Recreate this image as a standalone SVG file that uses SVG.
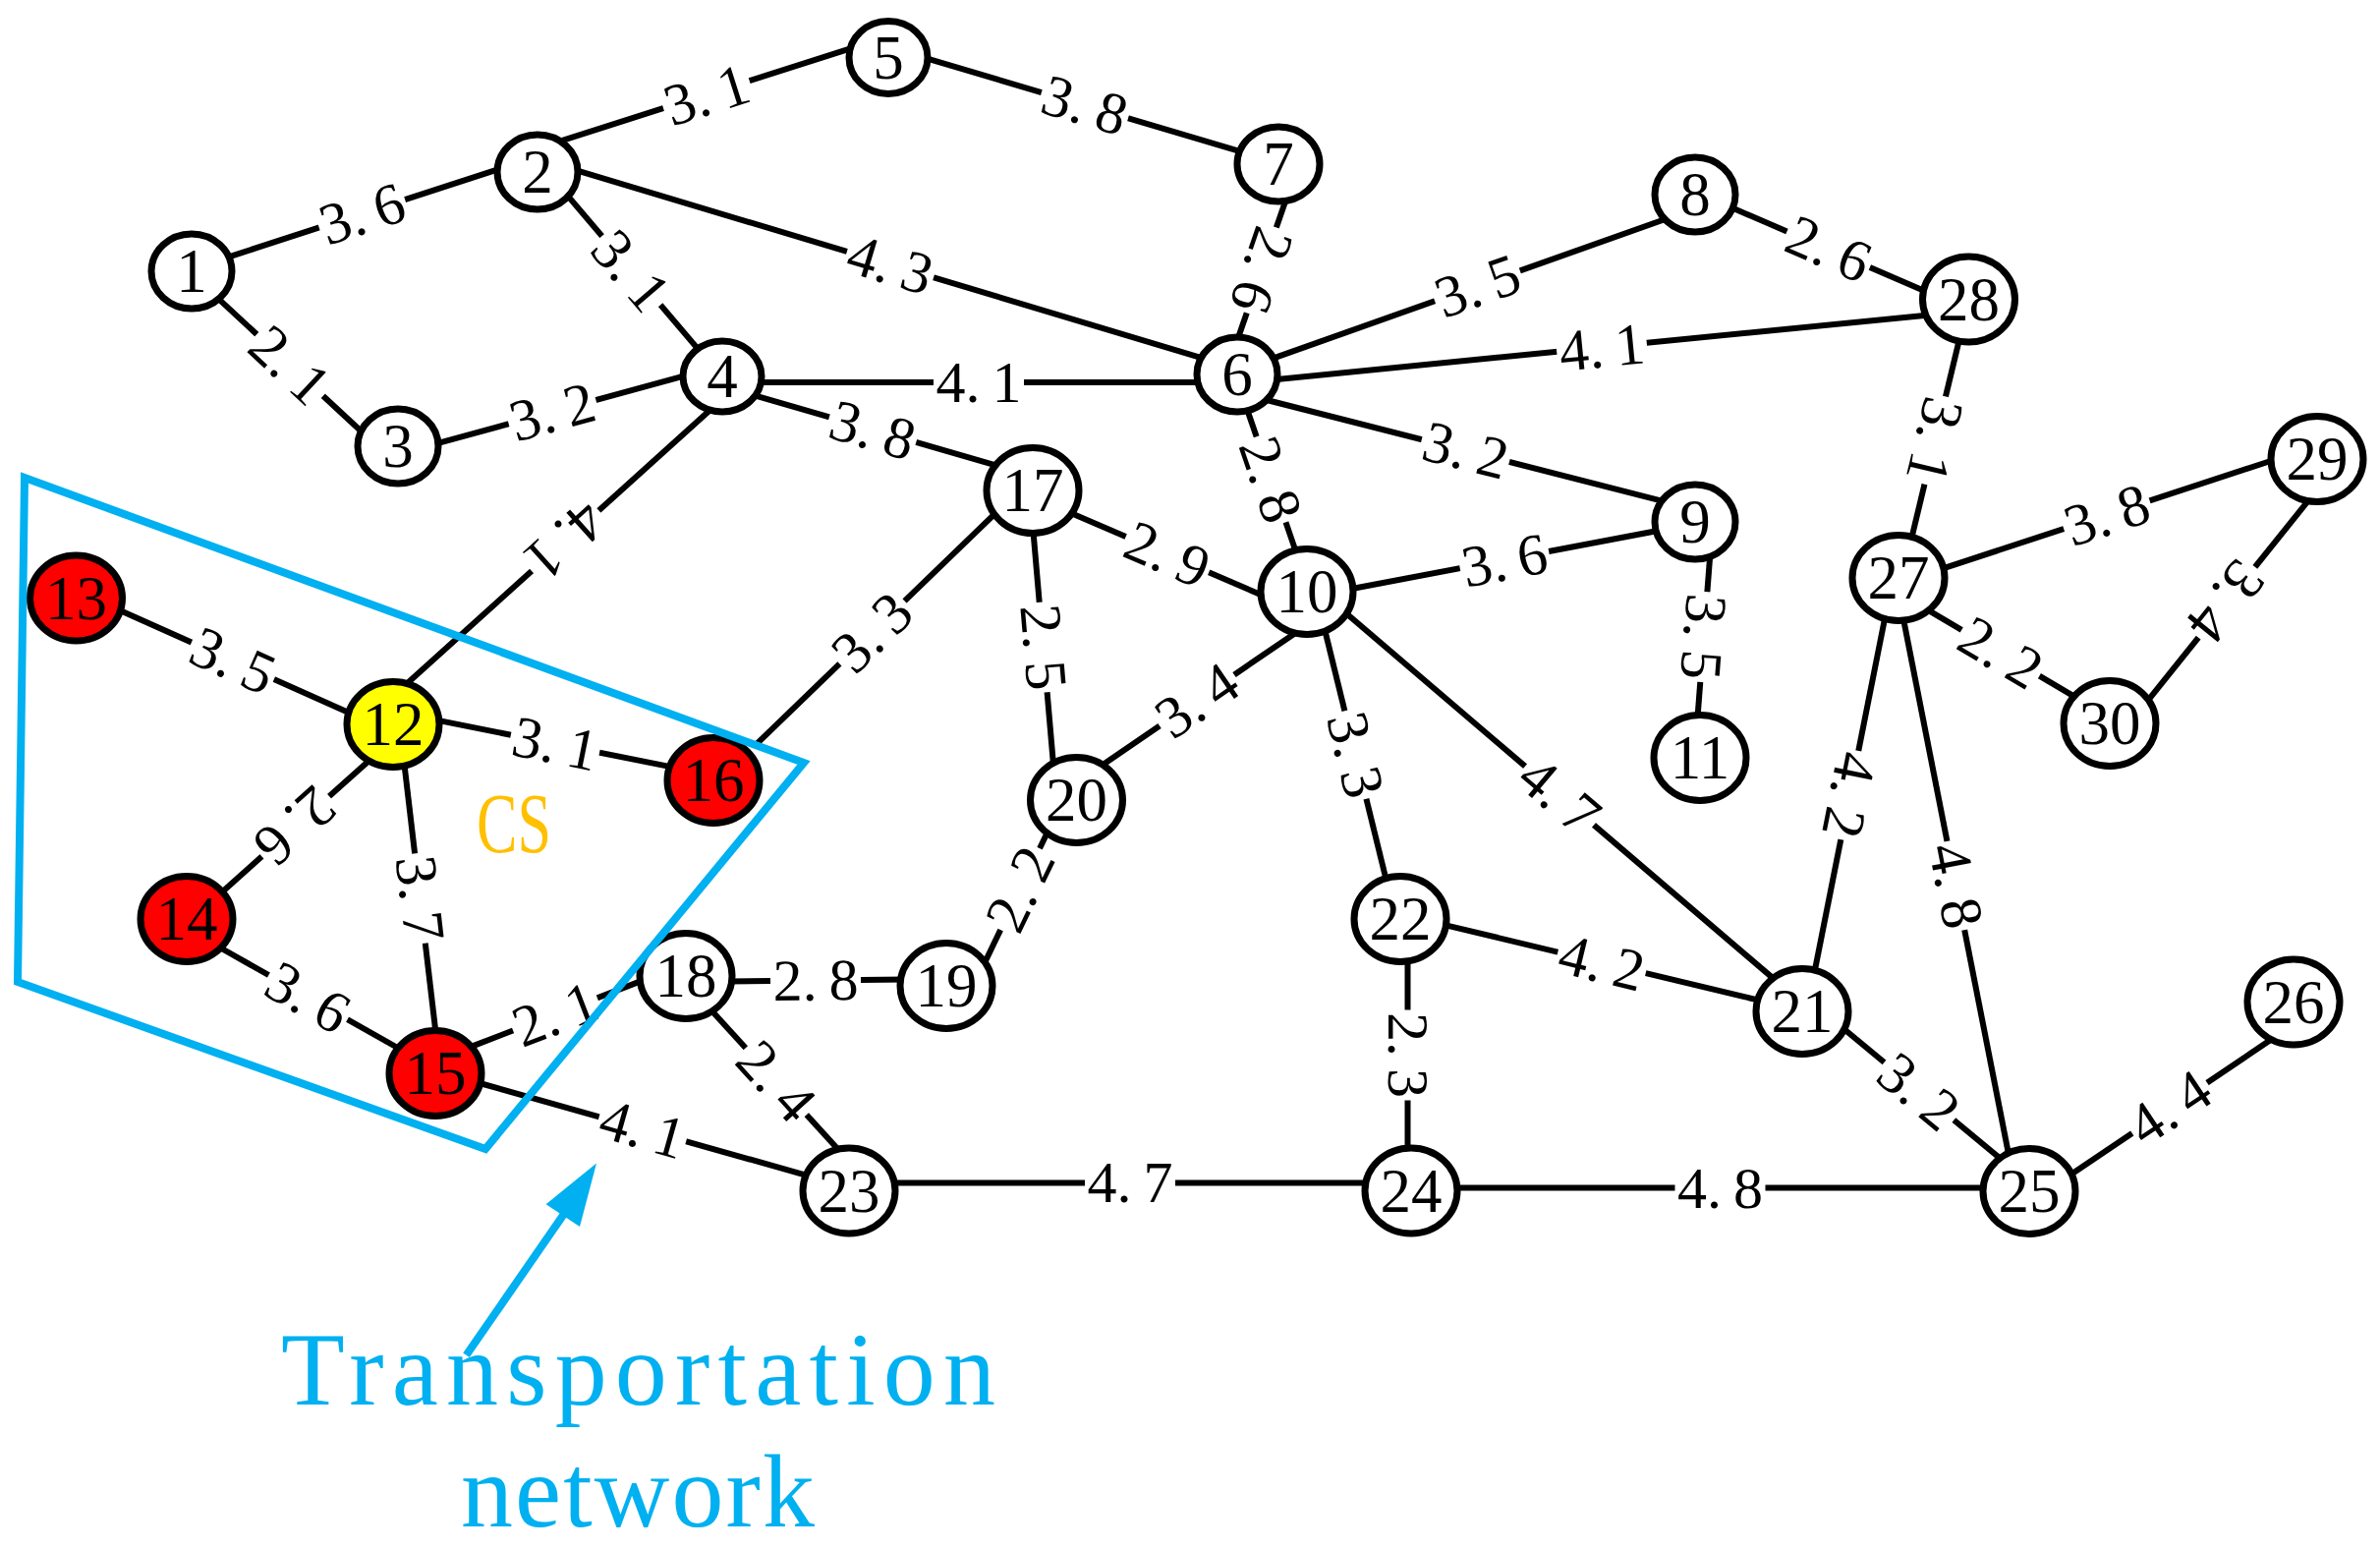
<svg xmlns="http://www.w3.org/2000/svg" width="2422" height="1577" viewBox="0 0 2422 1577">
<style>
.e line{stroke:#000;stroke-width:6;fill:none}
.lb rect{fill:#fff}
.lb text{font-family:"Liberation Serif","Times New Roman",serif;font-size:60px;text-anchor:middle;fill:#000}
.n ellipse{stroke:#000;stroke-width:7;fill:#fff}
.n text{font-family:"Liberation Serif","Times New Roman",serif;font-size:63px;text-anchor:middle;fill:#000}
.red ellipse{fill:#ff0000}
.yel ellipse{fill:#ffff00}
.blue{stroke:#00B0F0;stroke-width:8;fill:none;stroke-linejoin:miter}
.bt{font-family:"Liberation Serif","Times New Roman",serif;font-size:106px;fill:#00B0F0}
</style>
<rect width="2422" height="1577" fill="#fff"/>
<g id="connectors" class="e">
<line x1="228.4" y1="262.8" x2="509" y2="171.6"/>
<line x1="218.7" y1="300.6" x2="370.5" y2="441.5"/>
<line x1="567.7" y1="144.4" x2="868.6" y2="48.3"/>
<line x1="574.1" y1="194.9" x2="711.2" y2="356.1"/>
<line x1="584.3" y1="172.7" x2="1223.5" y2="364.3"/>
<line x1="443.1" y1="451.7" x2="699.4" y2="381.6"/>
<line x1="770" y1="389" x2="1222" y2="389"/>
<line x1="760.3" y1="400.1" x2="1015" y2="473.8"/>
<line x1="724.5" y1="415.6" x2="409.1" y2="700"/>
<line x1="940.3" y1="58.6" x2="1263.1" y2="154.3"/>
<line x1="1309.4" y1="201" x2="1258.7" y2="347.4"/>
<line x1="1296.1" y1="364.4" x2="1711.5" y2="217"/>
<line x1="1296.8" y1="386.2" x2="1963.5" y2="320.4"/>
<line x1="1289.1" y1="407" x2="1696" y2="510.8"/>
<line x1="1268.6" y1="415" x2="1319.2" y2="562.6"/>
<line x1="1758.9" y1="209.8" x2="1961.3" y2="297.2"/>
<line x1="1994.3" y1="343.8" x2="1944.1" y2="552.6"/>
<line x1="1975.7" y1="578.9" x2="2315.3" y2="467.5"/>
<line x1="2350.4" y1="507.7" x2="2185.7" y2="712.8"/>
<line x1="1957.7" y1="618.1" x2="2114.3" y2="710.7"/>
<line x1="1918.6" y1="626.5" x2="1846" y2="991.6"/>
<line x1="1936.5" y1="627.2" x2="2044.3" y2="1175.6"/>
<line x1="1373.1" y1="599.5" x2="1688.3" y2="539.8"/>
<line x1="1740.3" y1="564.3" x2="1727.3" y2="732.5"/>
<line x1="1347.6" y1="638.5" x2="1411.5" y2="898.6"/>
<line x1="1367.9" y1="622.2" x2="1807.1" y2="997.6"/>
<line x1="1468.2" y1="940.6" x2="1793" y2="1018.4"/>
<line x1="1432.5" y1="974" x2="1432.5" y2="1173"/>
<line x1="1086.9" y1="520.8" x2="1286.4" y2="606.5"/>
<line x1="1119.4" y1="780" x2="1321.3" y2="641.9"/>
<line x1="1051.3" y1="538.5" x2="1072" y2="778.3"/>
<line x1="768.2" y1="758.6" x2="1015.1" y2="520.2"/>
<line x1="999.8" y1="984.2" x2="1068.1" y2="842.3"/>
<line x1="740.3" y1="998.4" x2="922.4" y2="996.5"/>
<line x1="443" y1="732.4" x2="684.8" y2="780.6"/>
<line x1="115.3" y1="617.9" x2="359.3" y2="727.1"/>
<line x1="379.7" y1="770.2" x2="223.3" y2="909.9"/>
<line x1="411.1" y1="774.5" x2="443.8" y2="1053.6"/>
<line x1="218.4" y1="961" x2="406.4" y2="1067"/>
<line x1="476.9" y1="1065.9" x2="656.9" y2="996.4"/>
<line x1="484.6" y1="1101" x2="824.4" y2="1196.8"/>
<line x1="725.1" y1="1029.3" x2="855.3" y2="1171.9"/>
<line x1="906" y1="1203.4" x2="1394" y2="1203.4"/>
<line x1="1477" y1="1208.6" x2="2022" y2="1208.6"/>
<line x1="1875.1" y1="1045.8" x2="2038.2" y2="1180.9"/>
<line x1="2104.8" y1="1196.7" x2="2315.1" y2="1055.1"/>
<g class="lb" transform="translate(368.5,217.5) rotate(-18)"><rect x="-46" y="-23" width="92" height="46"/><text y="20">3.<tspan dx="12">6</tspan></text></g>
<g class="lb" transform="translate(295,371.5) rotate(42.9)"><rect x="-46" y="-23" width="92" height="46"/><text y="20">2.<tspan dx="12">1</tspan></text></g>
<g class="lb" transform="translate(719,96.5) rotate(-17.7)"><rect x="-46" y="-23" width="92" height="46"/><text y="20">3.<tspan dx="12">1</tspan></text></g>
<g class="lb" transform="translate(642,275.5) rotate(49.6)"><rect x="-46" y="-23" width="92" height="46"/><text y="20">3.<tspan dx="12">1</tspan></text></g>
<g class="lb" transform="translate(906,269) rotate(16.7)"><rect x="-46" y="-23" width="92" height="46"/><text y="20">4.<tspan dx="12">3</tspan></text></g>
<g class="lb" transform="translate(562,419) rotate(-15.3)"><rect x="-46" y="-23" width="92" height="46"/><text y="20">3.<tspan dx="12">2</tspan></text></g>
<g class="lb" transform="translate(996,389) rotate(0)"><rect x="-46" y="-23" width="92" height="46"/><text y="20">4.<tspan dx="12">1</tspan></text></g>
<g class="lb" transform="translate(888,437.5) rotate(16.2)"><rect x="-46" y="-23" width="92" height="46"/><text y="20">3.<tspan dx="12">8</tspan></text></g>
<g class="lb" transform="translate(575,550) rotate(138)"><rect x="-46" y="-23" width="92" height="46"/><text y="20">4.<tspan dx="12">1</tspan></text></g>
<g class="lb" transform="translate(1104,107) rotate(16.5)"><rect x="-46" y="-23" width="92" height="46"/><text y="20">3.<tspan dx="12">8</tspan></text></g>
<g class="lb" transform="translate(1284,275) rotate(109.1)"><rect x="-46" y="-23" width="92" height="46"/><text y="20">2.<tspan dx="12">6</tspan></text></g>
<g class="lb" transform="translate(1503.5,291) rotate(-19.5)"><rect x="-46" y="-23" width="92" height="46"/><text y="20">3.<tspan dx="12">5</tspan></text></g>
<g class="lb" transform="translate(1630,353.5) rotate(-5.6)"><rect x="-46" y="-23" width="92" height="46"/><text y="20">4.<tspan dx="12">1</tspan></text></g>
<g class="lb" transform="translate(1491.5,458) rotate(14.3)"><rect x="-46" y="-23" width="92" height="46"/><text y="20">3.<tspan dx="12">2</tspan></text></g>
<g class="lb" transform="translate(1293,488) rotate(71.1)"><rect x="-46" y="-23" width="92" height="46"/><text y="20">2.<tspan dx="12">8</tspan></text></g>
<g class="lb" transform="translate(1861,253) rotate(23.3)"><rect x="-46" y="-23" width="92" height="46"/><text y="20">2.<tspan dx="12">6</tspan></text></g>
<g class="lb" transform="translate(1969,448) rotate(103.5)"><rect x="-46" y="-23" width="92" height="46"/><text y="20">3.<tspan dx="12">1</tspan></text></g>
<g class="lb" transform="translate(2144,524) rotate(-18.2)"><rect x="-46" y="-23" width="92" height="46"/><text y="20">3.<tspan dx="12">8</tspan></text></g>
<g class="lb" transform="translate(2265,612) rotate(128.8)"><rect x="-46" y="-23" width="92" height="46"/><text y="20">3.<tspan dx="12">4</tspan></text></g>
<g class="lb" transform="translate(2036,664) rotate(30.6)"><rect x="-46" y="-23" width="92" height="46"/><text y="20">2.<tspan dx="12">2</tspan></text></g>
<g class="lb" transform="translate(1882,809) rotate(101.2)"><rect x="-46" y="-23" width="92" height="46"/><text y="20">4.<tspan dx="12">2</tspan></text></g>
<g class="lb" transform="translate(1990.5,901) rotate(78.9)"><rect x="-46" y="-23" width="92" height="46"/><text y="20">4.<tspan dx="12">8</tspan></text></g>
<g class="lb" transform="translate(1531,570) rotate(-10.7)"><rect x="-46" y="-23" width="92" height="46"/><text y="20">3.<tspan dx="12">6</tspan></text></g>
<g class="lb" transform="translate(1733.5,648) rotate(94.4)"><rect x="-46" y="-23" width="92" height="46"/><text y="20">3.<tspan dx="12">5</tspan></text></g>
<g class="lb" transform="translate(1379.5,768) rotate(76.2)"><rect x="-46" y="-23" width="92" height="46"/><text y="20">3.<tspan dx="12">3</tspan></text></g>
<g class="lb" transform="translate(1587,809.5) rotate(40.5)"><rect x="-46" y="-23" width="92" height="46"/><text y="20">4.<tspan dx="12">7</tspan></text></g>
<g class="lb" transform="translate(1630,979.5) rotate(13.5)"><rect x="-46" y="-23" width="92" height="46"/><text y="20">4.<tspan dx="12">2</tspan></text></g>
<g class="lb" transform="translate(1432.5,1073.5) rotate(90)"><rect x="-46" y="-23" width="92" height="46"/><text y="20">2.<tspan dx="12">3</tspan></text></g>
<g class="lb" transform="translate(1188,564) rotate(23.2)"><rect x="-46" y="-23" width="92" height="46"/><text y="20">2.<tspan dx="12">9</tspan></text></g>
<g class="lb" transform="translate(1218,712.5) rotate(-34.4)"><rect x="-46" y="-23" width="92" height="46"/><text y="20">3.<tspan dx="12">4</tspan></text></g>
<g class="lb" transform="translate(1062,658.5) rotate(85.1)"><rect x="-46" y="-23" width="92" height="46"/><text y="20">2.<tspan dx="12">5</tspan></text></g>
<g class="lb" transform="translate(887.5,643.4) rotate(-44)"><rect x="-46" y="-23" width="92" height="46"/><text y="20">3.<tspan dx="12">3</tspan></text></g>
<g class="lb" transform="translate(1038,904.6) rotate(-64.3)"><rect x="-46" y="-23" width="92" height="46"/><text y="20">2.<tspan dx="12">2</tspan></text></g>
<g class="lb" transform="translate(830,997.5) rotate(-0.6)"><rect x="-46" y="-23" width="92" height="46"/><text y="20">2.<tspan dx="12">8</tspan></text></g>
<g class="lb" transform="translate(565,756.5) rotate(11.25)"><rect x="-46" y="-23" width="92" height="46"/><text y="20">3.<tspan dx="12">1</tspan></text></g>
<g class="lb" transform="translate(237,672) rotate(24.1)"><rect x="-46" y="-23" width="92" height="46"/><text y="20">3.<tspan dx="12">5</tspan></text></g>
<g class="lb" transform="translate(300.5,840.5) rotate(138.2)"><rect x="-46" y="-23" width="92" height="46"/><text y="20">2.<tspan dx="12">6</tspan></text></g>
<g class="lb" transform="translate(427.5,914) rotate(83.3)"><rect x="-46" y="-23" width="92" height="46"/><text y="20">3.<tspan dx="12">7</tspan></text></g>
<g class="lb" transform="translate(313.4,1014.8) rotate(29.4)"><rect x="-46" y="-23" width="92" height="46"/><text y="20">3.<tspan dx="12">6</tspan></text></g>
<g class="lb" transform="translate(565,1032) rotate(-21.1)"><rect x="-46" y="-23" width="92" height="46"/><text y="20">2.<tspan dx="12">1</tspan></text></g>
<g class="lb" transform="translate(654,1148.5) rotate(15.7)"><rect x="-46" y="-23" width="92" height="46"/><text y="20">4.<tspan dx="12">1</tspan></text></g>
<g class="lb" transform="translate(790,1100) rotate(47.6)"><rect x="-46" y="-23" width="92" height="46"/><text y="20">2.<tspan dx="12">4</tspan></text></g>
<g class="lb" transform="translate(1150,1203.4) rotate(0)"><rect x="-46" y="-23" width="92" height="46"/><text y="20">4.<tspan dx="12">7</tspan></text></g>
<g class="lb" transform="translate(1750.5,1208.6) rotate(0)"><rect x="-46" y="-23" width="92" height="46"/><text y="20">4.<tspan dx="12">8</tspan></text></g>
<g class="lb" transform="translate(1952.7,1110.5) rotate(39.65)"><rect x="-46" y="-23" width="92" height="46"/><text y="20">3.<tspan dx="12">2</tspan></text></g>
<g class="lb" transform="translate(2207.7,1127) rotate(-33.9)"><rect x="-46" y="-23" width="92" height="46"/><text y="20">4.<tspan dx="12">4</tspan></text></g>
</g>
<g id="nodes">
<g id="n1" class="n"><ellipse cx="195" cy="276" rx="41" ry="38"/><text x="195" y="297">1</text></g>
<g id="n2" class="n"><ellipse cx="547" cy="175" rx="41" ry="38"/><text x="547" y="196">2</text></g>
<g id="n3" class="n"><ellipse cx="405" cy="454" rx="41" ry="38"/><text x="405" y="475">3</text></g>
<g id="n4" class="n"><ellipse cx="735" cy="383" rx="40" ry="36"/><text x="735" y="404">4</text></g>
<g id="n5" class="n"><ellipse cx="904" cy="58.5" rx="40" ry="37"/><text x="904" y="79.5">5</text></g>
<g id="n6" class="n"><ellipse cx="1259" cy="381" rx="41" ry="38"/><text x="1259" y="402">6</text></g>
<g id="n7" class="n"><ellipse cx="1301" cy="167" rx="42" ry="38"/><text x="1301" y="188">7</text></g>
<g id="n8" class="n"><ellipse cx="1725" cy="198" rx="41" ry="38"/><text x="1725" y="219">8</text></g>
<g id="n9" class="n"><ellipse cx="1725" cy="531" rx="41" ry="38"/><text x="1725" y="552">9</text></g>
<g id="n10" class="n"><ellipse cx="1330" cy="602" rx="47" ry="43.5"/><text x="1330" y="623">10</text></g>
<g id="n11" class="n"><ellipse cx="1730" cy="771" rx="47" ry="43.5"/><text x="1730" y="792">11</text></g>
<g id="n12" class="n yel"><ellipse cx="400" cy="737" rx="47" ry="43.5"/><text x="400" y="758">12</text></g>
<g id="n13" class="n red"><ellipse cx="77.5" cy="608.5" rx="47" ry="43.5"/><text x="77.5" y="629.5">13</text></g>
<g id="n14" class="n red"><ellipse cx="190" cy="935" rx="47" ry="43.5"/><text x="190" y="956">14</text></g>
<g id="n15" class="n red"><ellipse cx="443" cy="1092" rx="47" ry="43.5"/><text x="443" y="1113">15</text></g>
<g id="n16" class="n red"><ellipse cx="726" cy="794" rx="47" ry="43.5"/><text x="726" y="815">16</text></g>
<g id="n17" class="n"><ellipse cx="1051" cy="499" rx="47" ry="43.5"/><text x="1051" y="520">17</text></g>
<g id="n18" class="n"><ellipse cx="698" cy="993" rx="47" ry="43.5"/><text x="698" y="1014">18</text></g>
<g id="n19" class="n"><ellipse cx="963" cy="1003" rx="47" ry="43.5"/><text x="963" y="1024">19</text></g>
<g id="n20" class="n"><ellipse cx="1095.5" cy="814" rx="47" ry="43.5"/><text x="1095.5" y="835">20</text></g>
<g id="n21" class="n"><ellipse cx="1834" cy="1029" rx="47" ry="43.5"/><text x="1834" y="1050">21</text></g>
<g id="n22" class="n"><ellipse cx="1425" cy="935" rx="47" ry="43.5"/><text x="1425" y="956">22</text></g>
<g id="n23" class="n"><ellipse cx="864" cy="1211.5" rx="47" ry="43.5"/><text x="864" y="1232.5">23</text></g>
<g id="n24" class="n"><ellipse cx="1436" cy="1211.5" rx="47" ry="43.5"/><text x="1436" y="1232.5">24</text></g>
<g id="n25" class="n"><ellipse cx="2065" cy="1212" rx="47" ry="43.5"/><text x="2065" y="1233">25</text></g>
<g id="n26" class="n"><ellipse cx="2334" cy="1019.5" rx="47" ry="43.5"/><text x="2334" y="1040.5">26</text></g>
<g id="n27" class="n"><ellipse cx="1932" cy="588" rx="47" ry="43.5"/><text x="1932" y="609">27</text></g>
<g id="n28" class="n"><ellipse cx="2003.5" cy="304.5" rx="47" ry="43.5"/><text x="2003.5" y="325.5">28</text></g>
<g id="n29" class="n"><ellipse cx="2358" cy="467" rx="47" ry="43.5"/><text x="2358" y="488">29</text></g>
<g id="n30" class="n"><ellipse cx="2147" cy="736" rx="47" ry="43.5"/><text x="2147" y="757">30</text></g>
</g>
<g id="annotation">
<polygon class="blue" points="25,486 818,776 494,1169 18,999"/>
<line class="blue" x1="474.5" y1="1378.8" x2="574" y2="1235"/>
<polygon points="607,1183.5 555.6,1225.3 590,1248" fill="#00B0F0"/>
<text x="523" y="866.7" font-family="Liberation Serif, serif" font-size="86" text-anchor="middle" textLength="76" lengthAdjust="spacingAndGlyphs" fill="#FFC000">CS</text>
<text class="bt" x="286" y="1429.4" textLength="727" lengthAdjust="spacing">Transportation</text>
<text class="bt" x="469" y="1553" textLength="360" lengthAdjust="spacing">network</text>
</g>
</svg>
